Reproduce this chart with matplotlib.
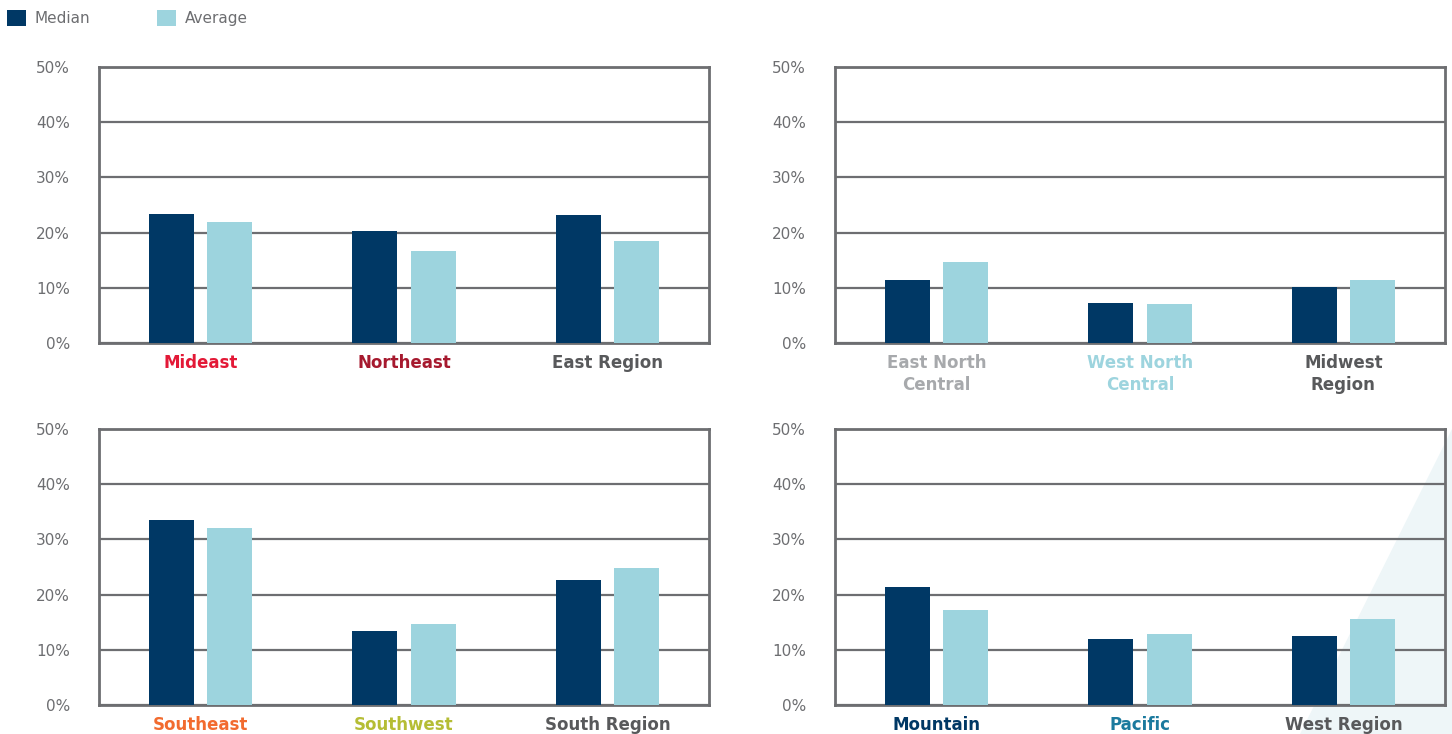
import numpy as np
import matplotlib.pyplot as plt
from matplotlib.patches import Polygon

# valores (%)
panel_labels = [
    ['Mideast', 'Northeast', 'East Region'],
    ['East North\nCentral', 'West North\nCentral', 'Midwest\nRegion'],
    ['Southeast', 'Southwest', 'South Region'],
    ['Mountain', 'Pacific', 'West Region'],
]
label_colors = [
    ['#E31937', '#A6192E', '#58595B'],
    ['#A7A9AC', '#9DD4DE', '#58595B'],
    ['#F26B2F', '#B5BD35', '#58595B'],
    ['#003865', '#1B7A9E', '#58595B'],
]
median = [
    [23.4, 20.3, 23.2],
    [11.4, 7.2, 10.1],
    [33.5, 13.4, 22.6],
    [21.4, 12.0, 12.5],
]
average = [
    [21.9, 16.7, 18.5],
    [14.7, 7.1, 11.4],
    [32.1, 14.7, 24.8],
    [17.2, 12.9, 15.6],
]
yticks = [0, 10, 20, 30, 40, 50]

c_med = '#003865'
c_avg = '#9DD4DE'
c_grid = '#6D6E71'

W, H = 1452, 734
fig = plt.figure(figsize=(W/100, H/100), dpi=100)

# triángulo decorativo de fondo
tri = Polygon([(1452/W, 1-429/H), (1452/W, 0), (1300/W, 0)], closed=True,
              transform=fig.transFigure, facecolor='#EEF6F8', edgecolor='none', zorder=-5)
fig.patches.append(tri)

lefts = [99, 835, 99, 835]
bottoms = [343, 343, 705, 705]
axes = []
for k in range(4):
    ax = fig.add_axes([lefts[k]/W, 1-bottoms[k]/H, 610/W, 276/H])
    ax.set_zorder(1)
    ax.set_facecolor('none')
    x = np.arange(3)
    ax.bar(x-0.143, median[k], width=0.222, color=c_med, label='Median', zorder=3)
    ax.bar(x+0.143, average[k], width=0.222, color=c_avg, label='Average', zorder=3)
    ax.set_xlim(-0.5, 2.5)
    ax.set_ylim(0, 50)
    ax.set_yticks(yticks)
    ax.set_yticklabels([f'{v}%' for v in yticks])
    ax.yaxis.grid(True, color=c_grid, linewidth=1.6)
    ax.set_axisbelow(True)
    ax.set_xticks(x)
    ax.set_xticklabels(panel_labels[k], fontsize=12, fontweight='bold', linespacing=1.3)
    for t, c in zip(ax.get_xticklabels(), label_colors[k]):
        t.set_color(c)
    ax.tick_params(axis='x', length=0, pad=8)
    ax.tick_params(axis='y', length=0, pad=21, labelsize=11, labelcolor=c_grid)
    for s in ax.spines.values():
        s.set_color(c_grid)
        s.set_linewidth(2)
    axes.append(ax)

h, l = axes[0].get_legend_handles_labels()
fig.legend(h, l, loc='upper left', bbox_to_anchor=(7/W, 1-10/H), ncol=2, frameon=False,
           fontsize=11, labelcolor=c_grid, handlelength=1.25, handleheight=1.25,
           handletextpad=0.55, columnspacing=4.4, borderpad=0, borderaxespad=0)

plt.savefig('out.png', dpi=100)
